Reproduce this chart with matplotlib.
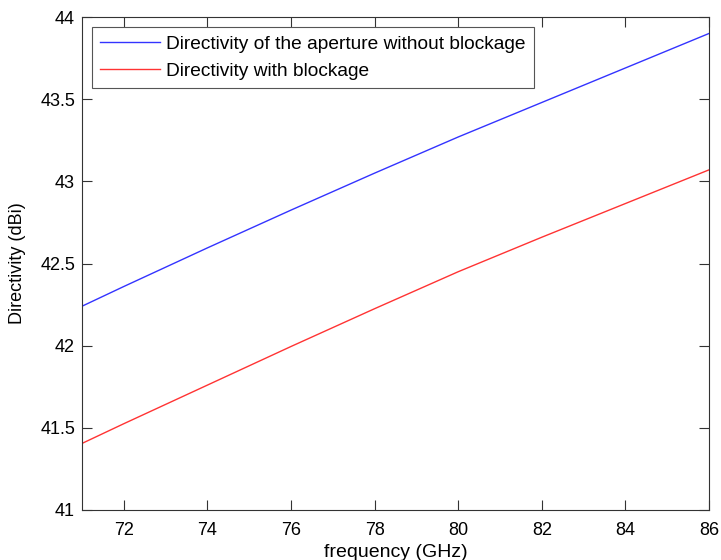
import matplotlib
matplotlib.use("Agg")
import matplotlib.pyplot as plt
from matplotlib.ticker import FuncFormatter

freq = [71, 72, 74, 76, 78, 80, 82, 84, 86]
dir_no_block = [42.24, 42.36, 42.595, 42.825, 43.05, 43.27, 43.48, 43.69, 43.90]
dir_block = [41.405, 41.525, 41.76, 41.995, 42.225, 42.45, 42.66, 42.865, 43.07]

x_ticks = [72, 74, 76, 78, 80, 82, 84, 86]
y_ticks = [41, 41.5, 42, 42.5, 43, 43.5, 44]

plt.rcParams['font.family'] = ['Liberation Sans', 'DejaVu Sans']

fig = plt.figure(figsize=(7.21, 5.6), dpi=100)
ax = fig.add_axes([0.1137, 0.0893, 0.8697, 0.8803])

ax.plot(freq, dir_no_block, color='#3333ff', lw=1.0,
        label='Directivity of the aperture without blockage')
ax.plot(freq, dir_block, color='#ff3333', lw=1.0,
        label='Directivity with blockage')

ax.set_xlim(71, 86)
ax.set_ylim(41, 44)
ax.set_xticks(x_ticks)
ax.set_yticks(y_ticks)
ax.yaxis.set_major_formatter(FuncFormatter(lambda v, p: '%g' % v))
ax.tick_params(direction='in', length=7, width=0.8, labelsize=13,
               top=True, right=True, color='#333333')
ax.tick_params(axis='x', pad=9)
ax.tick_params(axis='y', pad=5)
for s in ax.spines.values():
    s.set_color('#333333')
    s.set_linewidth(0.8)

ax.set_xlabel('frequency (GHz)', fontsize=14, labelpad=3)
ax.set_ylabel('Directivity (dBi)', fontsize=13, labelpad=10)

leg = ax.legend(loc='upper left', fontsize=13.8, fancybox=False,
                edgecolor='#555555', framealpha=1, handlelength=3.1,
                borderaxespad=0.5, labelspacing=0.5, handletextpad=0.35,
                borderpad=0.45)
leg.get_frame().set_linewidth(0.8)

fig.savefig('out.png', dpi=100)
